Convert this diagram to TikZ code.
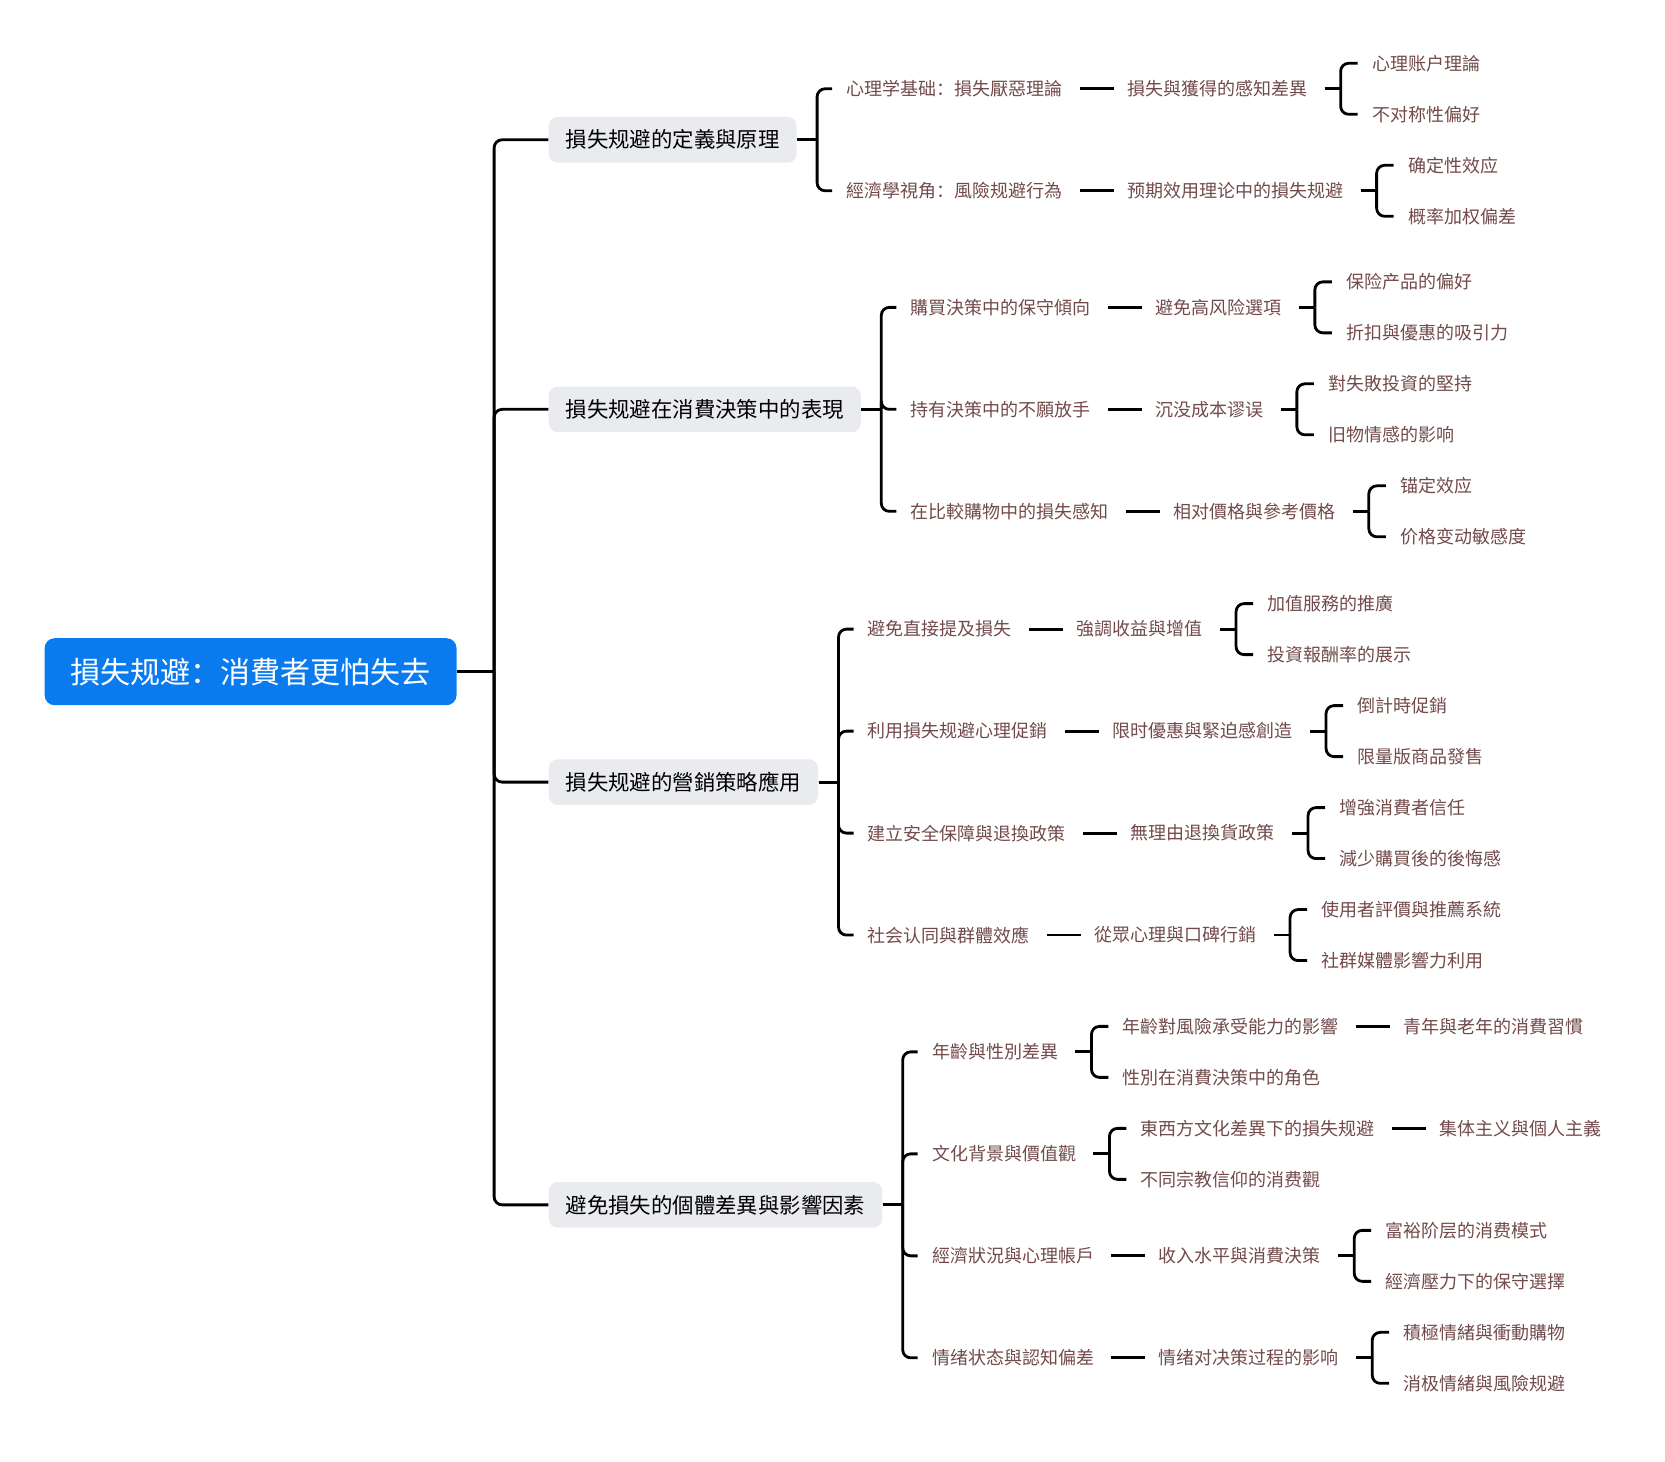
\documentclass[tikz,border=0pt]{standalone}
\usepackage{fontspec}
\setmainfont{Noto Sans CJK SC}
\usetikzlibrary{positioning}
\definecolor{rootblue}{HTML}{0A7BEF}
\definecolor{topicgray}{HTML}{E9EBEE}
\definecolor{leafbrown}{HTML}{724A4A}

\begin{document}
\begin{tikzpicture}[
    rootbox/.style={fill=rootblue, text=white, font=\fontsize{15}{18}\selectfont, rounded corners=5pt, minimum width=206pt, minimum height=33.5pt},
    topic/.style={fill=topicgray, font=\fontsize{10.7}{13}\selectfont, rounded corners=4.5pt, inner xsep=8.5pt, minimum height=22.8pt},
    leaf/.style={text=leafbrown, font=\fontsize{9}{11}\selectfont, inner xsep=0pt, inner ysep=2pt},
    link/.style={line width=1.4pt},
    arm/.style={line width=1.4pt, rounded corners=4pt},
    dashlink/.style={line width=1.4pt, shorten <=8.5pt, shorten >=6.5pt}
]
    \useasboundingbox (-125.3pt,335.9pt) rectangle (707.3pt,-394.8pt);

    % Root
    \node[rootbox] (root) {損失规避：消費者更怕失去};

    % Main topics
    \node[topic, right=45.7pt of root, yshift=266pt] (def) {損失规避的定義與原理};
    \node[topic, right=45.7pt of root, yshift=131.2pt] (cons) {損失规避在消費決策中的表現};
    \node[topic, right=45.7pt of root, yshift=-55.2pt] (mkt) {損失规避的營銷策略應用};
    \node[topic, right=45.7pt of root, yshift=-266.6pt] (indiv) {避免損失的個體差異與影響因素};

    % Definition and principle
    \node[leaf, right=24.5pt of def, yshift=25.5pt] (psy) {心理学基础：損失厭惡理論};
    \node[leaf, right=24.5pt of def, yshift=-25.5pt] (eco) {經濟學視角：風險规避行為};
    \node[leaf, right=32pt of psy] (psyA) {損失與獲得的感知差異};
    \node[leaf, right=32pt of psyA, yshift=12.75pt] (psyA1) {心理账户理論};
    \node[leaf, right=32pt of psyA, yshift=-12.75pt] (psyA2) {不对称性偏好};
    \node[leaf, right=32pt of eco] (ecoA) {预期效用理论中的損失规避};
    \node[leaf, right=32pt of ecoA, yshift=12.75pt] (ecoA1) {确定性效应};
    \node[leaf, right=32pt of ecoA, yshift=-12.75pt] (ecoA2) {概率加权偏差};

    % Consumer decisions
    \node[leaf, right=24.5pt of cons, yshift=51pt] (buy) {購買決策中的保守傾向};
    \node[leaf, right=24.5pt of cons] (hold) {持有決策中的不願放手};
    \node[leaf, right=24.5pt of cons, yshift=-51pt] (comp) {在比較購物中的損失感知};
    \node[leaf, right=32pt of buy] (buyA) {避免高风险選項};
    \node[leaf, right=32pt of buyA, yshift=12.75pt] (buyA1) {保险产品的偏好};
    \node[leaf, right=32pt of buyA, yshift=-12.75pt] (buyA2) {折扣與優惠的吸引力};
    \node[leaf, right=32pt of hold] (holdA) {沉没成本谬误};
    \node[leaf, right=32pt of holdA, yshift=12.75pt] (holdA1) {對失敗投資的堅持};
    \node[leaf, right=32pt of holdA, yshift=-12.75pt] (holdA2) {旧物情感的影响};
    \node[leaf, right=32pt of comp] (compA) {相对價格與參考價格};
    \node[leaf, right=32pt of compA, yshift=12.75pt] (compA1) {锚定效应};
    \node[leaf, right=32pt of compA, yshift=-12.75pt] (compA2) {价格变动敏感度};

    % Marketing
    \node[leaf, right=24.5pt of mkt, yshift=76.5pt] (avoid) {避免直接提及損失};
    \node[leaf, right=24.5pt of mkt, yshift=25.5pt] (promo) {利用損失规避心理促銷};
    \node[leaf, right=24.5pt of mkt, yshift=-25.5pt] (safe) {建立安全保障與退換政策};
    \node[leaf, right=24.5pt of mkt, yshift=-76.5pt] (social) {社会认同與群體效應};
    \node[leaf, right=32pt of avoid] (avoidA) {強調收益與增值};
    \node[leaf, right=32pt of avoidA, yshift=12.75pt] (avoidA1) {加值服務的推廣};
    \node[leaf, right=32pt of avoidA, yshift=-12.75pt] (avoidA2) {投資報酬率的展示};
    \node[leaf, right=32pt of promo] (promoA) {限时優惠與緊迫感創造};
    \node[leaf, right=32pt of promoA, yshift=12.75pt] (promoA1) {倒計時促銷};
    \node[leaf, right=32pt of promoA, yshift=-12.75pt] (promoA2) {限量版商品發售};
    \node[leaf, right=32pt of safe] (safeA) {無理由退換貨政策};
    \node[leaf, right=32pt of safeA, yshift=12.75pt] (safeA1) {增強消費者信任};
    \node[leaf, right=32pt of safeA, yshift=-12.75pt] (safeA2) {減少購買後的後悔感};
    \node[leaf, right=32pt of social] (socialA) {從眾心理與口碑行銷};
    \node[leaf, right=32pt of socialA, yshift=12.75pt] (socialA1) {使用者評價與推薦系統};
    \node[leaf, right=32pt of socialA, yshift=-12.75pt] (socialA2) {社群媒體影響力利用};

    % Individual differences
    \node[leaf, right=24.5pt of indiv, yshift=76.5pt] (age) {年齡與性別差異};
    \node[leaf, right=24.5pt of indiv, yshift=25.5pt] (cult) {文化背景與價值觀};
    \node[leaf, right=24.5pt of indiv, yshift=-25.5pt] (econ) {經濟狀況與心理帳戶};
    \node[leaf, right=24.5pt of indiv, yshift=-76.5pt] (emo) {情绪状态與認知偏差};
    \node[leaf, right=32pt of age, yshift=12.75pt] (ageA) {年齡對風險承受能力的影響};
    \node[leaf, right=32pt of age, yshift=-12.75pt] (ageB) {性別在消費決策中的角色};
    \node[leaf, right=32pt of ageA] (ageA1) {青年與老年的消費習慣};
    \node[leaf, right=32pt of cult, yshift=12.75pt] (cultA) {東西方文化差異下的損失规避};
    \node[leaf, right=32pt of cult, yshift=-12.75pt] (cultB) {不同宗教信仰的消费觀};
    \node[leaf, right=32pt of cultA] (cultA1) {集体主义與個人主義};
    \node[leaf, right=32pt of econ] (econA) {收入水平與消費決策};
    \node[leaf, right=32pt of econA, yshift=12.75pt] (econA1) {富裕阶层的消费模式};
    \node[leaf, right=32pt of econA, yshift=-12.75pt] (econA2) {經濟壓力下的保守選擇};
    \node[leaf, right=32pt of emo] (emoA) {情绪对决策过程的影响};
    \node[leaf, right=32pt of emoA, yshift=12.75pt] (emoA1) {積極情緒與衝動購物};
    \node[leaf, right=32pt of emoA, yshift=-12.75pt] (emoA2) {消极情緒與風險规避};

    % Trunk
    \draw[link] (root.east) -- ([xshift=18.6pt]root.east);
    \foreach \t in {def,cons,mkt,indiv}
        \draw[arm] ([xshift=18.6pt]root.east) |- (\t.west);

    % Topic brackets
    \foreach \t/\c in {def/psy,def/eco,cons/buy,cons/hold,cons/comp,mkt/avoid,mkt/promo,mkt/safe,mkt/social,indiv/age,indiv/cult,indiv/econ,indiv/emo} {
        \draw[link] (\t.east) -- ([xshift=10pt]\t.east);
        \draw[arm] ([xshift=10pt]\t.east) |- ([xshift=-7pt]\c.west);
    }

    % Leaf brackets
    \foreach \p/\c in {psyA/psyA1,psyA/psyA2,ecoA/ecoA1,ecoA/ecoA2,buyA/buyA1,buyA/buyA2,holdA/holdA1,holdA/holdA2,compA/compA1,compA/compA2,avoidA/avoidA1,avoidA/avoidA2,promoA/promoA1,promoA/promoA2,safeA/safeA1,safeA/safeA2,socialA/socialA1,socialA/socialA2,age/ageA,age/ageB,cult/cultA,cult/cultB,econA/econA1,econA/econA2,emoA/emoA1,emoA/emoA2} {
        \draw[link] ([xshift=8.5pt]\p.east) -- ([xshift=16.5pt]\p.east);
        \draw[arm] ([xshift=16.5pt]\p.east) |- ([xshift=-7pt]\c.west);
    }

    % Dashes
    \foreach \a/\b in {psy/psyA,eco/ecoA,buy/buyA,hold/holdA,comp/compA,avoid/avoidA,promo/promoA,safe/safeA,social/socialA,ageA/ageA1,cultA/cultA1,econ/econA,emo/emoA}
        \draw[dashlink] (\a.east) -- (\b.west);
\end{tikzpicture}
\end{document}
